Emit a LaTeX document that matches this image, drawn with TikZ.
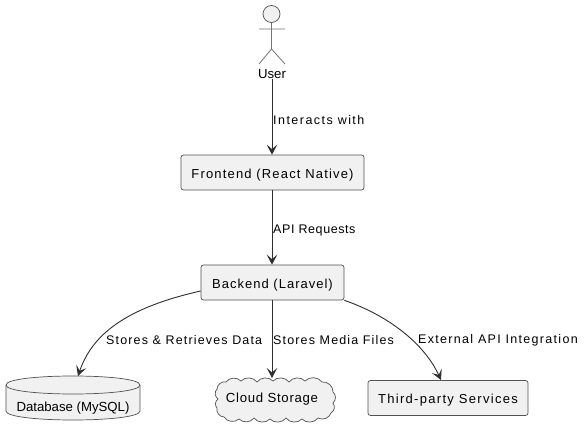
\documentclass[tikz,border=0pt]{standalone}
\usepackage{fontspec}
\setmainfont{Liberation Sans}
\newcommand{\ls}[2]{\addfontfeature{LetterSpace=#1}#2}
\usetikzlibrary{arrows.meta}
\definecolor{ln}{HTML}{181818}
\definecolor{bx}{HTML}{F1F1F1}
\tikzset{
  x=1pt,y=-1pt,
  boxn/.style={draw=ln!75,fill=bx,rounded corners=2.5pt,line width=.7pt,inner sep=0pt,text height=13pt,text depth=2pt,font=\fontsize{13}{15}\selectfont},
  plain/.style={inner sep=0pt,font=\fontsize{13.2}{15}\selectfont},
  lab/.style={inner sep=0pt,anchor=west,font=\fontsize{12.5}{15}\selectfont},
  conn/.style={draw=ln!90,line width=.9pt,-{Stealth[length=10pt,width=10.5pt,inset=4.5pt]}},
  shp/.style={draw=ln!75,fill=bx,line width=.7pt},
  bump/.style={bend left=50}
}
\begin{document}
\begin{tikzpicture}
\useasboundingbox (0,0) rectangle (587,436);
\fill[white] (0,0) rectangle (587,436);
% actor
\draw[shp] (271.5,14) circle[radius=8.5];
\draw[draw=ln!60,line width=.8pt] (271.5,23) -- (271.5,49) (259,29) -- (285,29) (259,64) -- (271.5,49) -- (285,64);
\node[plain] (user) at (272,74) {User};
\node[boxn,minimum width=183pt,minimum height=35pt] (front) at (272.5,172.5) {\ls{9}{Frontend (React Native)}};
\node[boxn,minimum width=143pt,minimum height=35pt] (back) at (272.5,282.5) {\ls{7.8}{Backend (Laravel)}};
\node[boxn,minimum width=160pt,minimum height=35pt] (third) at (448,398) {\ls{10}{Third-party Services}};
% database
\draw[shp] (6,385) -- (6,411) .. controls (6,423) and (140,423) .. (140,411) -- (140,385) .. controls (140,373) and (6,373) .. (6,385) -- cycle;
\draw[draw=ln!75,line width=.7pt] (6,385) .. controls (6,397) and (140,397) .. (140,385);
\node[plain] (db) at (73,408.5) {Database (MySQL)};
\coordinate (dbtop) at (78,376);
% cloud
\draw[shp] (226,382) to[bump] (241,381) to[bump] (257,382) to[bump] (273,381) to[bump] (289,382) to[bump] (305,381) to[bump] (322,382)
 to[bump] (333,392) to[bump] (333,403) to[bump] (331,413)
 to[bump] (318,418) to[bump] (302,419) to[bump] (286,418) to[bump] (270,419) to[bump] (254,418) to[bump] (239,419) to[bump] (224,417)
 to[bump] (217,408) to[bump] (218,399) to[bump] (217,389) to[bump] (226,382) -- cycle;
\node[plain] (cloud) at (272,399.5) {\ls{5.3}{Cloud Storage}};
\coordinate (cloudtop) at (272,378);
\coordinate (backl) at ([yshift=-8.5pt]back.west);
\coordinate (backr) at (back.south east);
\coordinate (thirdtop) at (441,380);
% connectors
\draw[conn] (user.south -| 272,0) -- (front.north -| 272,0);
\draw[conn] (front.south -| 272,0) -- (back.north -| 272,0);
\draw[conn] (back.south -| 272,0) -- (cloudtop);
\draw[conn] (backl) .. controls (125,308) and (92,335) .. (dbtop);
\draw[conn] (backr) .. controls (390,316) and (425,345) .. (thirdtop);
% labels
\node[lab] (l1) at (273,120) {\ls{11.7}{Interacts with}};
\node[lab] (l2) at (273,230) {\ls{4.7}{API Requests}};
\node[lab] (l3) at (106,340) {\ls{9.2}{Stores \& Retrieves Data}};
\node[lab] (l4) at (273,340) {\ls{9.2}{Stores Media Files}};
\node[lab] (l5) at (418,340) {\ls{10.5}{External API Integration}};
\end{tikzpicture}
\end{document}
